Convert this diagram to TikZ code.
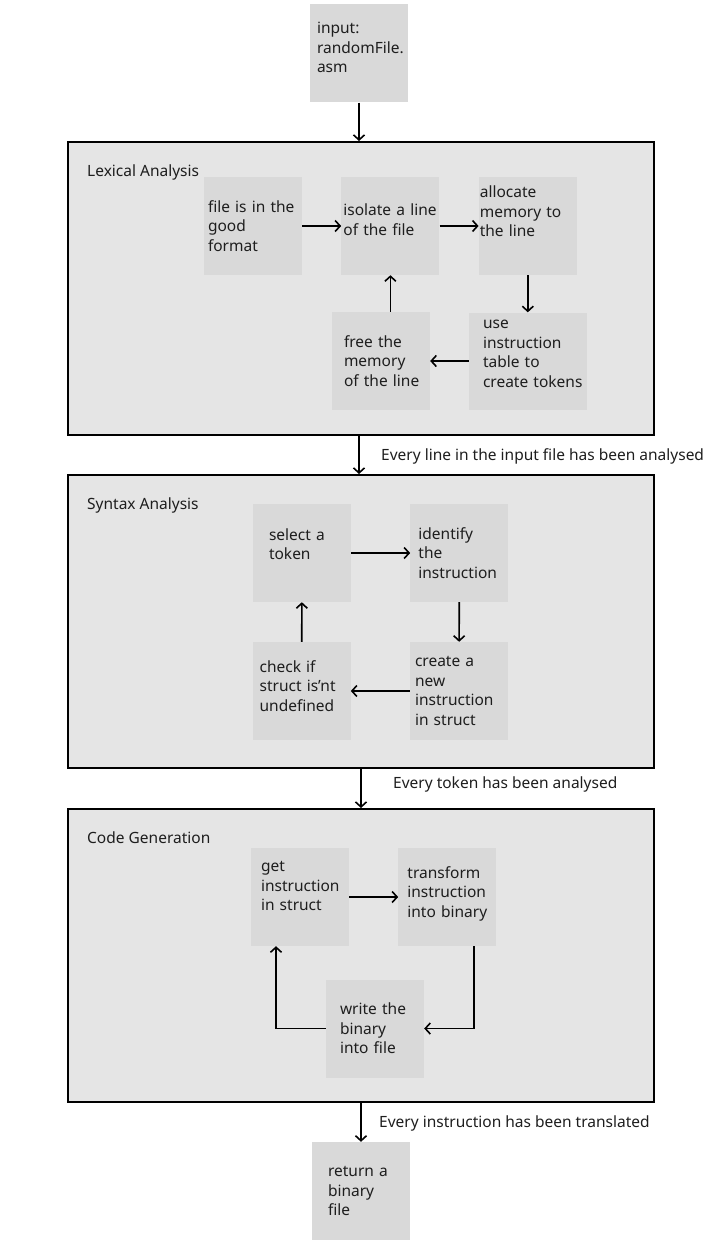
\documentclass[tikz,border=0pt]{standalone}
\usepackage{fontspec}
\setmainfont{Noto Sans}
\usepackage{xcolor}
\definecolor{boxgray}{HTML}{D9D9D9}
\definecolor{stagegray}{HTML}{E5E5E5}
\definecolor{ink}{HTML}{1E1E1E}
\usetikzlibrary{arrows.meta,positioning}
% pushes the text of a box upwards
\newcommand{\lift}[1]{\\[#1]\mbox{}}
\tikzset{
	stepbox/.style={
		rectangle, fill=boxgray, text=ink,
		minimum width=98pt, minimum height=98pt,
		text width=#1, inner xsep=0pt, inner ysep=5pt, align=left,
		font=\fontsize{15.5}{19.5}\selectfont
	},
	stepbox/.default=88pt,
	stage/.style={
		draw=black, line width=2pt, fill=stagegray,
		minimum width=586pt, minimum height=293pt, inner sep=0pt
	},
	stagetitle/.style={anchor=west, text=ink, inner sep=0pt,
		font=\fontsize{15.5}{19.5}\selectfont},
	edgelabel/.style={anchor=west, text=ink, inner sep=0pt,
		font=\fontsize{15.5}{19.5}\selectfont},
	flow_arrow/.style={-{Straight Barb[length=5pt,width=11pt]}, line width=1.6pt, black}
}

\begin{document}
\begin{tikzpicture}[x=1pt,y=-1pt]
  \useasboundingbox (0,0) rectangle (720,1260);
  % stages
  \node[stage] (lex)  at (361,288.5) {};
  \node[stage] (syn)  at (361,621.5) {};
  \node[stage] (code) at (361,955.5) {};
  \node[stagetitle] at (87,172) {Lexical Analysis};
  \node[stagetitle] at (87,505) {Syntax Analysis};
  \node[stagetitle] at (87,838) {Code Generation};

  % input / output
  \node[stepbox=84pt] (input) at (359,53.5) {input:\\randomFile.\\asm\lift{-8pt}};
  \node[stepbox=66pt] (ret)   at (361,1191) {return a\\binary\\file};

  % lexical analysis
  \node[stepbox=90pt] (file)  at (253,226) {file is in the\\good\\format};
  \node[stepbox=94pt] (iso)   [right=39pt of file] {isolate a line\\of the file\lift{-7pt}};
  \node[stepbox=96pt] (alloc) [right=39pt of iso] {allocate\\memory to\\the line\lift{10pt}};
  \node[stepbox=90pt, minimum width=118pt, minimum height=97pt]
    (tok) at (528,361) {use\\instruction\\table to\\\mbox{create tokens}\lift{-5pt}};
  \node[stepbox=74pt] (free)  at (381,361) {free the\\memory\\\mbox{of the line}};
  \draw[flow_arrow] (file) -- (iso);
  \draw[flow_arrow] (iso) -- (alloc);
  \draw[flow_arrow] (alloc) -- (alloc |- tok.north);
  \draw[flow_arrow] (tok) -- (free);
  \draw[flow_arrow] (free.north -| iso) -- (iso.south);

  % syntax analysis
  \node[stepbox=66pt] (sel)   at (302,553) {select a\\token\lift{-2pt}};
  \node[stepbox=82pt] (ident) [right=59pt of sel] {identify\\the\\instruction};
  \node[stepbox=88pt] (new)   at (459,691) {create a\\new\\instruction\\in struct};
  \node[stepbox=84pt] (check) [left=59pt of new] {check if\\struct is'nt\\undefined\lift{-9pt}};
  \draw[flow_arrow] (sel) -- (ident);
  \draw[flow_arrow] (ident) -- (new);
  \draw[flow_arrow] (new) -- (check);
  \draw[flow_arrow] (check) -- (sel);

  % code generation
  \node[stepbox=78pt] (get)   at (300,897) {get\\instruction\\in struct\lift{2pt}};
  \node[stepbox=80pt] (trans) [right=49pt of get] {transform\\instruction\\into binary\lift{-9pt}};
  \node[stepbox=70pt] (write) at (375,1028.5) {write the\\binary\\into file};
  \draw[flow_arrow] (get) -- (trans);
  \draw[flow_arrow] ([xshift=26.5pt]trans.south) |- (write.east);
  \draw[flow_arrow] (write.west) -| ([xshift=-24pt]get.south);

  % stage transitions
  \draw[flow_arrow] (input) -- (lex.north -| input);
  \draw[flow_arrow] (lex.south -| input) -- (syn.north -| input);
  \draw[flow_arrow] (syn.south -| ret) -- (code.north -| ret);
  \draw[flow_arrow] (code.south -| ret) -- (ret);
  \node[edgelabel] at (381,456) {Every line in the input file has been analysed};
  \node[edgelabel] at (393,784) {Every token has been analysed};
  \node[edgelabel] at (379,1123) {Every instruction has been translated};
\end{tikzpicture}
\end{document}
